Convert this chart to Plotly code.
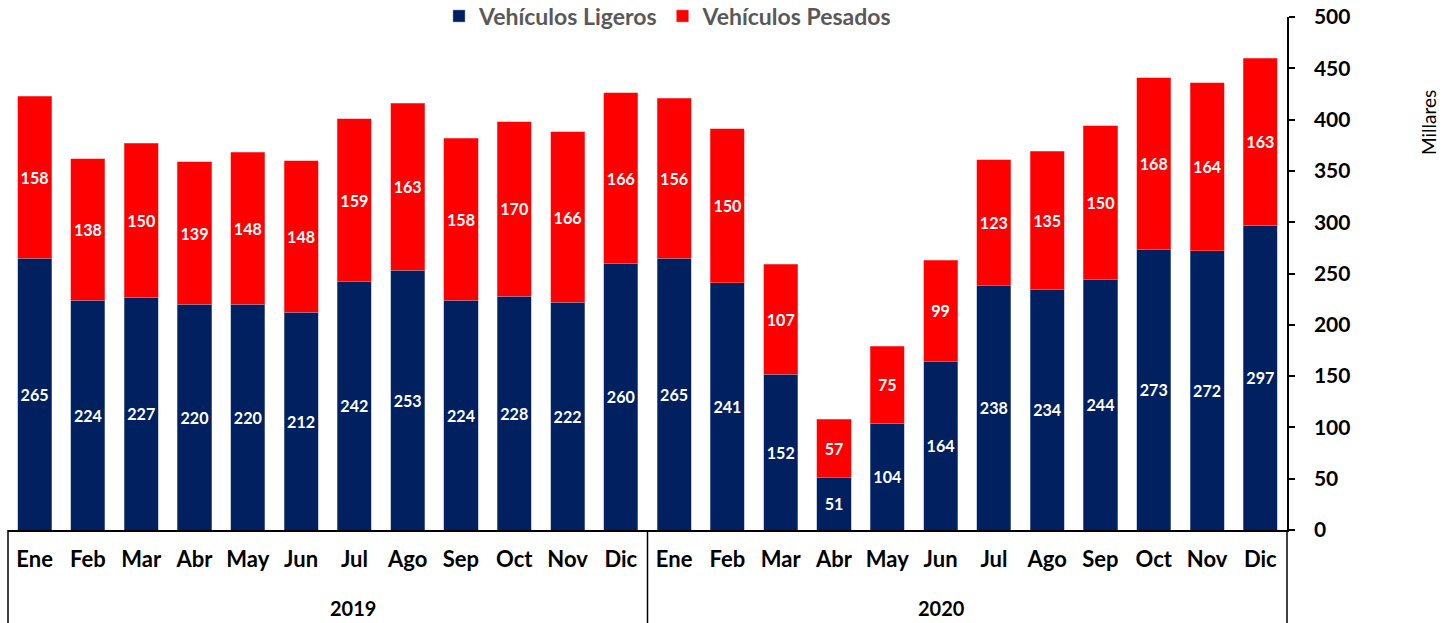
import plotly.graph_objects as go

year_labels = ["2019", "2020"]
month_names = ["Ene", "Feb", "Mar", "Abr", "May", "Jun", "Jul", "Ago", "Sep", "Oct", "Nov", "Dic"]
years = [y for y in year_labels for _ in month_names]
months = month_names * 2
ligeros = [265, 224, 227, 220, 220, 212, 242, 253, 224, 228, 222, 260,
           265, 241, 152, 51, 104, 164, 238, 234, 244, 273, 272, 297]
pesados = [158, 138, 150, 139, 148, 148, 159, 163, 158, 170, 166, 166,
           156, 150, 107, 57, 75, 99, 123, 135, 150, 168, 164, 163]
y_ticks = list(range(0, 501, 50))

FONT = "Lato"
cats = [f"{m} {y}" for m, y in zip(months, years)]

fig = go.Figure()
fig.add_trace(go.Bar(
    x=cats, y=ligeros, name="Vehículos Ligeros",
    marker=dict(color="#002060", line=dict(color="#8a9bc0", width=0.5)),
    text=[str(v) for v in ligeros], textposition="inside", insidetextanchor="middle",
    textfont=dict(color="white", size=21, family=FONT, weight="bold"),
    textangle=0,
))
fig.add_trace(go.Bar(
    x=cats, y=pesados, name="Vehículos Pesados",
    marker=dict(color="#FF0000", line=dict(color="#ff8080", width=0.5)),
    text=[str(v) for v in pesados], textposition="inside", insidetextanchor="middle",
    textfont=dict(color="white", size=21, family=FONT, weight="bold"),
    textangle=0,
))

PH = 513.0  # plot height in px
PW = 1279.0  # plot width in px
fig.update_layout(
    barmode="stack",
    bargap=0.36,
    width=1443, height=623,
    margin=dict(l=8, r=156, t=17, b=93, autoexpand=False),
    plot_bgcolor="white", paper_bgcolor="white",
    font=dict(family=FONT, color="black"),
    uniformtext=dict(mode="show", minsize=10),
    legend=dict(orientation="h", x=(668 - 8) / PW, xanchor="center", yref="container",
                y=1 - 16 / 623, yanchor="middle",
                font=dict(size=23, color="#595959", family=FONT, weight="bold"),
                itemwidth=30, traceorder="normal", bgcolor="rgba(0,0,0,0)"),
    xaxis=dict(
        type="category",
        tickvals=cats, ticktext=months,
        showline=True, linecolor="black", linewidth=1.5,
        tickfont=dict(size=22, color="black", family=FONT, weight="bold"),
        ticks="", showgrid=False, ticklabelstandoff=9,
    ),
    yaxis=dict(
        side="right", range=[0, 500], tickvals=y_ticks,
        showline=True, linecolor="black", linewidth=1.5,
        ticks="outside", ticklen=6, tickcolor="black", tickwidth=1.5,
        tickfont=dict(size=21, color="black", family=FONT, weight="bold"),
        showgrid=False, zeroline=False, ticklabelstandoff=15,
    ),
)
# vertical dividers through the category label area
for xp in (0, 0.5, 1):
    fig.add_shape(type="line", xref="paper", yref="paper", x0=xp, x1=xp, y0=0, y1=-93 / PH,
                  line=dict(color="black", width=1.5))
# year group labels
for i, yl in enumerate(year_labels):
    fig.add_annotation(text=yl, xref="paper", yref="paper", x=0.25 + 0.5 * i, y=-78 / PH,
                       showarrow=False, yanchor="middle",
                       font=dict(size=20, color="black", family=FONT, weight="bold"))
# y-axis title
fig.add_annotation(text="Millares", xref="paper", yref="paper", x=(1428 - 8) / PW, y=(530 - 123) / PH,
                   showarrow=False, textangle=-90, xanchor="center", yanchor="middle",
                   font=dict(size=19, color="black", family=FONT))

fig.write_html("out.html", config={"displayModeBar": False},
               post_script="document.body.style.margin='0';")
